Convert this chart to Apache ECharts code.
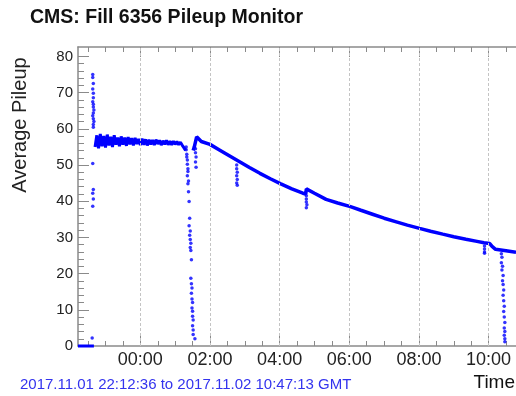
<!DOCTYPE html>
<html>
<head>
<meta charset="utf-8">
<script src="https://cdn.jsdelivr.net/npm/echarts@6/dist/echarts.min.js"></script>
<style>
html, body { margin: 0; padding: 0; background: #fff; }
#chart { width: 516px; height: 396px; }
</style>
</head>
<body>
<div id="chart"></div>
<script>
// fill time range (GMT)
const startTime = '22:12:36'
const endTime = '10:47:13'
const timeLabels = ['00:00', '02:00', '04:00', '06:00', '08:00', '10:00']
const pileupTicks = [0, 10, 20, 30, 40, 50, 60, 70, 80]

// no beam at the start
const zeroTimes = ['22:12:36', '22:40']
const zeroValues = [0, 0]

// injection spike
const spikeTimes = ['22:38', '22:38', '22:39', '22:38', '22:39', '22:39', '22:38', '22:39', '22:39', '22:40', '22:39',
  '22:38', '22:39', '22:40', '22:39', '22:39', '22:38', '22:39', '22:38', '22:39', '22:38', '22:37']
const spikeValues = [75.0, 74.2, 72.5, 71.0, 69.8, 68.6, 67.5, 66.8, 66.0, 65.2, 64.4,
  63.6, 62.8, 62.0, 61.2, 60.4, 50.4, 43.2, 42.2, 40.6, 38.6, 2.2]

// noisy band before the first dip
const bandTimes = ['22:42', '22:45', '22:48', '22:51', '22:54', '22:57', '23:00', '23:03', '23:06', '23:09',
  '23:12', '23:15', '23:18', '23:21', '23:24', '23:27', '23:30', '23:33', '23:36', '23:39',
  '23:42', '23:45', '23:48', '23:51', '23:54', '23:57', '00:00', '00:03', '00:06', '00:09',
  '00:12', '00:15', '00:18', '00:21', '00:24', '00:27', '00:30', '00:33', '00:36', '00:39',
  '00:42', '00:45', '00:48', '00:51', '00:54', '00:57', '01:00', '01:03', '01:06', '01:09',
  '01:12', '01:15', '01:18']
const bandValues = [55.0, 58.2, 54.6, 58.6, 55.2, 58.0, 54.8, 58.4, 55.4, 57.8,
  55.0, 58.2, 55.6, 57.6, 55.2, 57.9, 55.6, 57.6, 55.3, 57.7,
  55.7, 57.4, 55.4, 57.5, 55.8, 57.2, 55.5, 57.3, 55.6, 57.1,
  55.4, 57.0, 55.7, 56.9, 55.5, 57.0, 55.8, 56.8, 55.5, 56.7,
  55.7, 56.8, 55.6, 56.6, 55.6, 56.6, 55.7, 56.5, 55.6, 56.3,
  55.5, 54.8, 54.0]

// beam loss around 01:20
const dropTimes = ['01:19', '01:19', '01:20', '01:20', '01:21', '01:21', '01:22', '01:22', '01:21', '01:23',
  '01:22', '01:23', '01:24', '01:25', '01:24', '01:26', '01:25', '01:26', '01:27', '01:26',
  '01:27', '01:28', '01:27', '01:28', '01:29', '01:28', '01:29', '01:30', '01:29', '01:30',
  '01:30', '01:31', '01:30', '01:31', '01:31', '01:34', '01:35', '01:35', '01:36', '01:35', '01:36']
const dropValues = [55.0, 54.2, 53.0, 52.2, 51.4, 50.2, 49.0, 48.2, 47.0, 45.6,
  44.8, 42.6, 39.9, 35.3, 33.2, 31.8, 30.6, 29.4, 28.4, 27.2,
  26.4, 23.8, 18.7, 17.2, 16.0, 14.6, 13.0, 12.0, 10.5, 9.6,
  8.2, 7.2, 5.6, 4.4, 3.2, 2.0, 54.5, 53.4, 52.2, 50.8, 49.4]

// luminosity decay after the re-fill
const decayTimes = ['01:31', '01:33', '01:37', '01:45', '02:00', '02:17', '02:34', '02:51', '03:08', '03:26',
  '03:44', '04:02', '04:21', '04:40', '04:45', '04:46', '05:00', '05:20', '05:40', '06:02',
  '06:20', '06:40', '07:00', '07:21', '07:40', '08:01', '08:20', '08:41', '09:00', '09:21',
  '09:40', '09:52', '10:02', '10:06', '10:12', '10:30', '10:47:13']
const decayValues = [54.0, 55.0, 57.8, 56.5, 55.7, 54.1, 52.5, 50.9, 49.3, 47.7,
  46.2, 44.8, 43.4, 42.2, 42.0, 43.4, 42.2, 40.5, 39.5, 38.5,
  37.5, 36.4, 35.3, 34.3, 33.4, 32.5, 31.7, 30.9, 30.2, 29.5,
  28.9, 28.5, 28.3, 27.5, 26.7, 26.3, 25.9]

// short dips along the decay
const dipTimes = ['02:46', '02:46', '02:47', '02:46', '02:47', '02:46', '02:47',
  '04:46', '04:46', '04:46', '04:47', '04:46',
  '09:53', '09:53', '09:53', '09:53']
const dipValues = [50.0, 49.0, 48.0, 47.0, 46.0, 45.0, 44.4,
  41.5, 40.6, 39.8, 39.0, 38.2,
  27.6, 26.8, 26.0, 25.6]

// drop at the end of the fill
const endTimes = ['10:22', '10:23', '10:22', '10:24', '10:23', '10:25', '10:24', '10:25', '10:26', '10:25',
  '10:26', '10:27', '10:26', '10:27', '10:28', '10:27', '10:28', '10:27', '10:28', '10:28']
const endValues = [25.5, 24.5, 23.0, 22.0, 21.0, 19.5, 18.0, 17.0, 15.5, 14.0,
  12.5, 11.0, 9.5, 8.0, 6.5, 5.0, 4.0, 3.0, 2.0, 1.2]

// hh:mm[:ss] -> hours relative to midnight (evening of 1 Nov is negative)
function toHours (s) {
  const p = s.split(':').map(Number)
  let h = p[0] + p[1] / 60 + (p[2] || 0) / 3600
  if (p[0] >= 12) h -= 24
  return h
}
function pairs (times, values) {
  return times.map((t, i) => [toHours(t), values[i]])
}
function hourLabel (v) {
  const h = Math.round(v)
  return (h < 10 ? '0' : '') + h + ':00'
}

const xMin = toHours(startTime)
const xMax = toHours(endTime)
const majorX = timeLabels.map(toHours)
const minorX = []
for (let h = -1.5; h < xMax; h += 0.5) minorX.push(h)
const minorY = []
for (let v = 2; v < 82; v += 2) minorY.push(v)

const blue = '#0000ff'
const axisGrey = '#8a8a8a'
const font = 'Liberation Sans'

function xAxisDef (pos, ticks, len, withLine, withLabels) {
  return {
    type: 'value', position: pos, min: xMin, max: xMax,
    axisLine: { show: withLine, onZero: false, lineStyle: { color: axisGrey, width: 1.5 } },
    axisTick: { show: true, inside: true, length: len, customValues: ticks, lineStyle: { color: axisGrey } },
    axisLabel: withLabels
      ? { show: true, customValues: majorX, formatter: hourLabel, fontSize: 18, fontFamily: font, color: '#222', margin: 5 }
      : { show: false },
    splitLine: { show: false }
  }
}
function yAxisDef (ticks, len, withLine, withLabels) {
  return {
    type: 'value', position: 'left', min: 0, max: 82.6,
    axisLine: { show: withLine, onZero: false, lineStyle: { color: axisGrey, width: 1.5 } },
    axisTick: { show: true, inside: true, length: len, customValues: ticks, lineStyle: { color: axisGrey } },
    axisLabel: withLabels
      ? { show: true, customValues: pileupTicks, fontSize: 15, fontFamily: font, color: '#222', margin: 5 }
      : { show: false },
    splitLine: { show: false }
  }
}

const chart = echarts.init(document.getElementById('chart'))
chart.setOption({
  animation: false,
  backgroundColor: '#fff',
  title: {
    text: 'CMS: Fill 6356 Pileup Monitor',
    left: 25,
    top: 3,
    textStyle: { fontSize: 19.5, fontWeight: 'bold', fontFamily: font, color: '#111' }
  },
  grid: { left: 78, right: -1, top: 47, bottom: 50 },
  xAxis: [
    xAxisDef('bottom', majorX, 10, true, true),
    xAxisDef('bottom', minorX, 5, false, false),
    xAxisDef('top', majorX, 10, true, false),
    xAxisDef('top', minorX, 5, false, false)
  ],
  yAxis: [
    yAxisDef(pileupTicks, 11, true, true),
    yAxisDef(minorY, 6, false, false)
  ],
  graphic: [
    {
      type: 'text', x: 20, y: 125, rotation: Math.PI / 2,
      style: { text: 'Average Pileup', font: '20px "Liberation Sans"', fill: '#222', align: 'center', verticalAlign: 'middle' }
    },
    {
      type: 'text', x: 20, y: 385,
      style: { text: '2017.11.01 22:12:36 to 2017.11.02 10:47:13 GMT', font: '15px "Liberation Sans"', fill: '#3333ee', verticalAlign: 'middle' }
    },
    {
      type: 'text', x: 515, y: 383,
      style: { text: 'Time', font: '19px "Liberation Sans"', fill: '#111', align: 'right', verticalAlign: 'middle' }
    }
  ],
  series: [
    {
      type: 'line', data: pairs(zeroTimes, zeroValues), showSymbol: false, clip: false,
      lineStyle: { color: blue, width: 3 },
      markLine: {
        silent: true, symbol: 'none', label: { show: false },
        lineStyle: { color: '#c4c4c4', type: [3, 2], width: 1 },
        data: majorX.map(v => ({ xAxis: v }))
      }
    },
    {
      type: 'line', data: pairs(bandTimes, bandValues), showSymbol: false,
      lineStyle: { color: blue, width: 3 }
    },
    {
      type: 'line', data: pairs(decayTimes, decayValues), showSymbol: false,
      lineStyle: { color: blue, width: 3.5 }
    },
    {
      type: 'scatter', symbolSize: 3.5, itemStyle: { color: blue },
      data: pairs(spikeTimes, spikeValues)
        .concat(pairs(dropTimes, dropValues))
        .concat(pairs(dipTimes, dipValues))
        .concat(pairs(endTimes, endValues))
    }
  ]
})
</script>
</body>
</html>
